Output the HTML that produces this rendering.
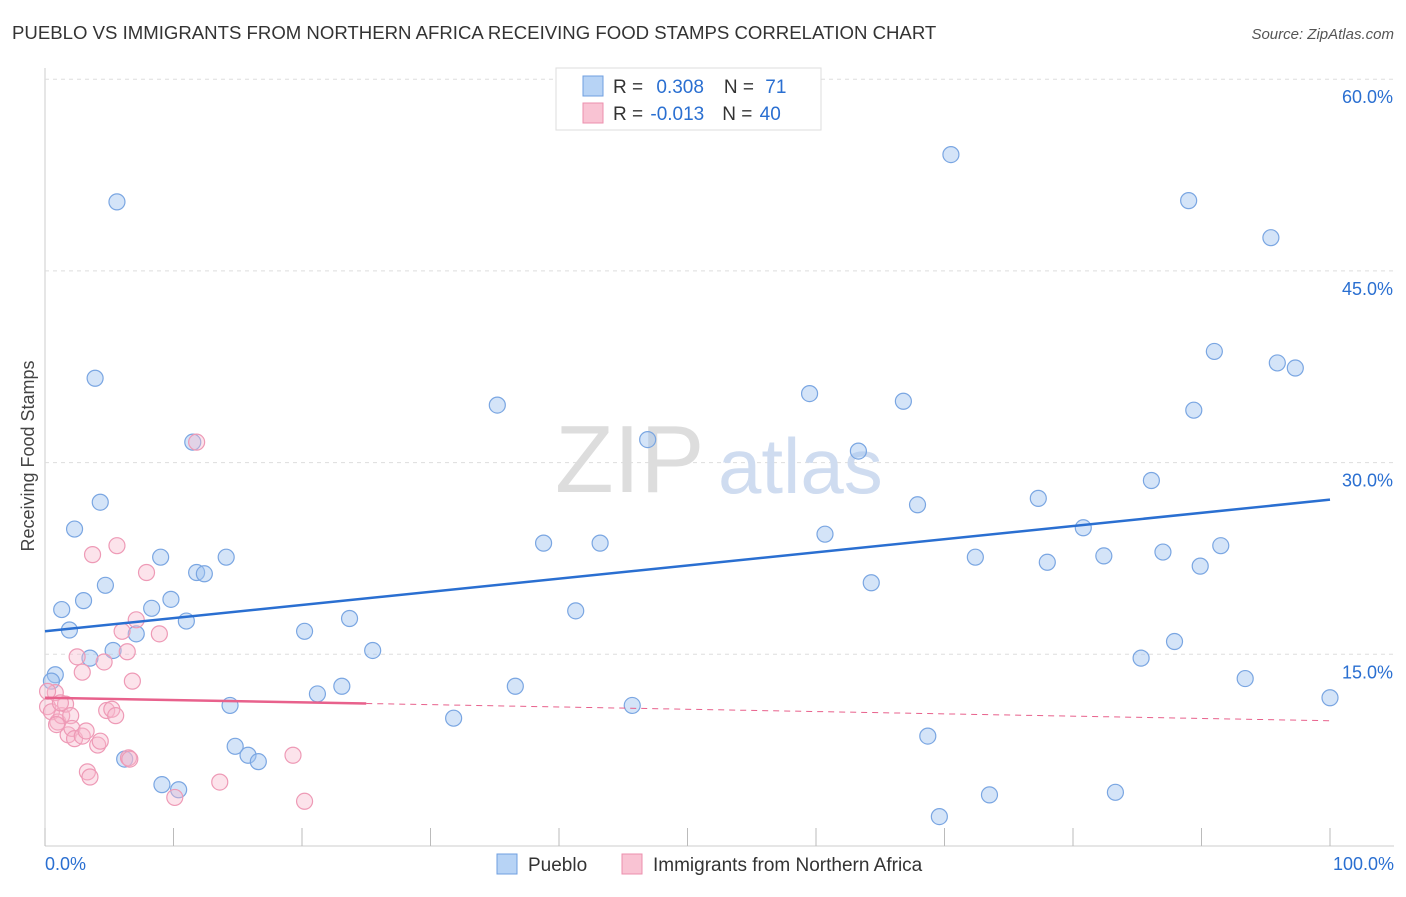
<!DOCTYPE html>
<html><head><meta charset="utf-8"><style>
body{margin:0;background:#fff;font-family:"Liberation Sans",sans-serif;}
svg text{font-family:"Liberation Sans",sans-serif;}
</style></head><body>
<svg id="chart" width="1406" height="892">
<text x="12" y="39" font-size="18.6" fill="#333">PUEBLO VS IMMIGRANTS FROM NORTHERN AFRICA RECEIVING FOOD STAMPS CORRELATION CHART</text>
<text x="1394" y="39" font-size="15" fill="#555" font-style="italic" text-anchor="end">Source: ZipAtlas.com</text>
<text x="0" y="0" transform="translate(34,456) rotate(-90)" font-size="18" fill="#444" text-anchor="middle">Receiving Food Stamps</text>
<g id="grid"></g>
<text x="555" y="492" font-size="96" fill="#ddd" font-family="Liberation Serif">ZIP</text>
<text x="718" y="493" font-size="78" fill="#cfdcf0">atlas</text>
<g id="marks"></g>
<g>
<rect x="556" y="68" width="265" height="62" fill="#fff" stroke="#ddd"/>
<rect x="583" y="76" width="20" height="20" fill="#b7d3f5" stroke="#6f9fe0"/>
<rect x="583" y="103" width="20" height="20" fill="#f9c3d3" stroke="#ec8fae"/>
<text x="613" y="93" font-size="19" fill="#333">R = <tspan fill="#2a6fd1" dx="8">0.308</tspan><tspan dx="20" fill="#333">N = </tspan><tspan dx="6" fill="#2a6fd1">71</tspan></text>
<text x="613" y="120" font-size="19" fill="#333">R = <tspan fill="#2a6fd1" dx="2">-0.013</tspan><tspan dx="18" fill="#333">N = </tspan><tspan dx="2" fill="#2a6fd1">40</tspan></text>
</g>
<g>
<rect x="497" y="854" width="20" height="20" fill="#b7d3f5" stroke="#6f9fe0"/>
<text x="528" y="871" font-size="19" fill="#333">Pueblo</text>
<rect x="622" y="854" width="20" height="20" fill="#f9c3d3" stroke="#ec8fae"/>
<text x="653" y="871" font-size="19" fill="#333">Immigrants from Northern Africa</text>
</g>
</svg>
<script>
const yTicks=[15,30,45,60];
const yTickLabels=["15.0%","30.0%","45.0%","60.0%"];
const xTicks=[0,10,20,30,40,50,60,70,80,90,100];
const puebloX=[5.6,3.9,11.5,4.3,2.3,1.3,3,1.9,4.7,0.8,0.5,3.5,5.3,7.1,8.3,9,9.8,11,11.8,12.4,14.1,14.4,14.8,15.8,16.6,6.2,9.1,10.4,20.2,21.2,23.1,23.7,25.5,31.8,35.2,36.6,38.8,41.3,43.2,45.7,46.9,59.5,60.7,63.3,64.3,66.8,67.9,68.7,69.6,70.5,72.4,73.5,77.3,78,80.8,82.4,83.3,85.3,86.1,87,87.9,89,89.4,89.9,91,91.5,93.4,95.4,95.9,97.3,100];
const puebloY=[50.4,36.6,31.6,26.9,24.8,18.5,19.2,16.9,20.4,13.4,12.9,14.7,15.3,16.6,18.6,22.6,19.3,17.6,21.4,21.3,22.6,11,7.8,7.1,6.6,6.8,4.8,4.4,16.8,11.9,12.5,17.8,15.3,10,34.5,12.5,23.7,18.4,23.7,11,31.8,35.4,24.4,30.9,20.6,34.8,26.7,8.6,2.3,54.1,22.6,4,27.2,22.2,24.9,22.7,4.2,14.7,28.6,23,16,50.5,34.1,21.9,38.7,23.5,13.1,47.6,37.8,37.4,11.6];
const africaX=[0.8,0.2,0.5,1,1.3,0.9,1.6,2,1.8,2.1,2.3,2.9,2.5,2.9,3.7,4.1,4.3,3.3,3.5,4.8,5.2,5.5,5.6,6,6.4,6.8,7.1,7.9,8.9,6.5,6.6,11.8,13.6,10.1,19.3,20.2,0.2,1.2,3.2,4.6];
const africaY=[12,10.9,10.5,9.7,10.2,9.5,11.1,10.2,8.7,9.2,8.4,8.6,14.8,13.6,22.8,7.9,8.2,5.8,5.4,10.6,10.7,10.2,23.5,16.8,15.2,12.9,17.7,21.4,16.6,6.9,6.8,31.6,5,3.8,7.1,3.5,12.1,11.2,9,14.4];
const blueLine=[16.8,27.1];
const pinkLine=[11.6,9.8];
const NS="http://www.w3.org/2000/svg";
const X=v=>45+v*12.85, Y=v=>846-v*12.78;
const grid=document.getElementById('grid'), marks=document.getElementById('marks');
function mk(tag,attrs,parent){const e=document.createElementNS(NS,tag);for(const k in attrs)e.setAttribute(k,attrs[k]);parent.appendChild(e);return e;}
const ax=mk('line',{x1:45,y1:68,x2:45,y2:846,stroke:'#ccc'},grid);


const bx=mk('line',{x1:45,y1:846,x2:1394,y2:846,stroke:'#ccc'},grid);


yTicks.forEach((t,i)=>{
 const g=mk('line',{x1:45,y1:Y(t),x2:1394,y2:Y(t),stroke:'#ddd','stroke-dasharray':'4,4'},grid);
 
 
 const l=mk('text',{x:1393,y:Y(t)+24,'font-size':18,fill:'#2a6fd1','text-anchor':'end'},grid);l.textContent=yTickLabels[i];
 
 
});
xTicks.forEach(t=>{
 const k=mk('line',{x1:X(t),y1:828,x2:X(t),y2:846,stroke:'#bbb'},grid);
 
 
});
const xl0=mk('text',{x:45,y:870,'font-size':18,fill:'#2a6fd1'},grid);xl0.textContent='0.0%';


const xl1=mk('text',{x:1394,y:870,'font-size':18,fill:'#2a6fd1','text-anchor':'end'},grid);xl1.textContent='100.0%';


puebloX.forEach((v,i)=>{
 const c=mk('circle',{cx:X(v),cy:Y(puebloY[i]),r:8,fill:'rgba(160,196,240,0.45)',stroke:'#7aa6e2','stroke-width':1.2},marks);
 
 
});
africaX.forEach((v,i)=>{
 const c=mk('circle',{cx:X(v),cy:Y(africaY[i]),r:8,fill:'rgba(248,185,205,0.4)',stroke:'#ee9ab6','stroke-width':1.2},marks);
 
 
});
const bl=mk('line',{x1:X(0),y1:Y(blueLine[0]),x2:X(100),y2:Y(blueLine[1]),stroke:'#2a6fd1','stroke-width':2.5},marks);


const pAt=x=>pinkLine[0]+(pinkLine[1]-pinkLine[0])*x/100;
const ps=mk('line',{x1:X(0),y1:Y(pAt(0)),x2:X(25),y2:Y(pAt(25)),stroke:'#e8618c','stroke-width':2.5},marks);


const pd=mk('line',{x1:X(25),y1:Y(pAt(25)),x2:X(100),y2:Y(pAt(100)),stroke:'#e8618c','stroke-width':1,'stroke-dasharray':'6,5'},marks);


</script>
</body></html>
